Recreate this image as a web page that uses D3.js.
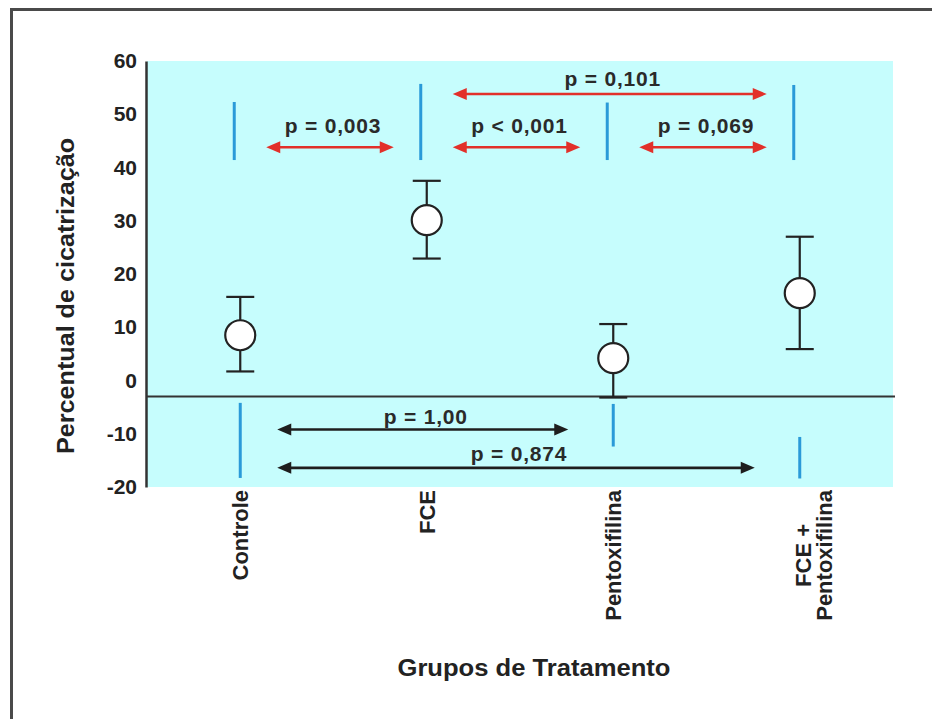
<!DOCTYPE html>
<html>
<head>
<meta charset="utf-8">
<script src="https://cdn.jsdelivr.net/npm/d3@7"></script>
<style>
  html, body { margin: 0; padding: 0; background: #fff; }
  svg { display: block; font-family: "Liberation Sans", Arial, sans-serif; }
</style>
</head>
<body>
<svg id="chart" width="932" height="719"></svg>
<script>
// Treatment groups (tick labels; "\n" splits a label over two lines)
const categories = ["Controle", "FCE", "Pentoxifilina", "FCE +\nPentoxifilina"];
// Mean healing percentage and the ends of each error bar
const means = [8.5, 30.1, 4.2, 16.4];
const upperErr = [15.7, 37.5, 10.6, 27.0];
const lowerErr = [1.7, 22.9, -3.2, 5.9];

// Y axis tick labels
const yTicks = [60, 50, 40, 30, 20, 10, 0, -10, -20];
const yDomain = [-20, 60];
const baselineValue = -3;

// Group marker segments (value ranges) above and below the baseline
const upperMarkers = [
  { group: 0, from: 41.4, to: 52.3 },
  { group: 1, from: 41.4, to: 55.7 },
  { group: 2, from: 41.4, to: 52.2 },
  { group: 3, from: 41.4, to: 55.5 }
];
const lowerMarkers = [
  { group: 0, from: -18.3, to: -4.2 },
  { group: 2, from: -12.4, to: -4.4 },
  { group: 3, from: -18.4, to: -10.6 }
];

// Pairwise comparisons: groups joined, arrow level, label level, p-value text
const redComparisons = [
  { a: 0, b: 1, level: 43.8, labelLevel: 46.5, text: "p = 0,003" },
  { a: 1, b: 2, level: 43.8, labelLevel: 46.5, text: "p < 0,001" },
  { a: 2, b: 3, level: 43.8, labelLevel: 46.5, text: "p = 0,069" },
  { a: 1, b: 3, level: 53.8, labelLevel: 55.3, text: "p = 0,101" }
];
const blackComparisons = [
  { a: 0, b: 2, level: -9.2, labelLevel: -8.1, text: "p = 1,00" },
  { a: 0, b: 3, level: -16.4, labelLevel: -15.1, text: "p = 0,874" }
];

const yTitle = "Percentual de cicatrização";
const xTitle = "Grupos de Tratamento";

const svg = d3.select("#chart");
const plot = { left: 147, right: 893, top: 61, bottom: 487 };

const x = d3.scalePoint().domain(d3.range(categories.length))
  .range([plot.left, plot.right]).padding(0.5);
const y = d3.scaleLinear().domain(yDomain).range([plot.bottom, plot.top]);

// outer frame (left and top edges)
svg.append("path")
  .attr("d", `M11.5,730 L11.5,9.5 L940,9.5`)
  .attr("fill", "none").attr("stroke", "#4a4a4a").attr("stroke-width", 3);

// plot background
svg.append("rect")
  .attr("x", plot.left).attr("y", plot.top)
  .attr("width", plot.right - plot.left).attr("height", plot.bottom - plot.top)
  .attr("fill", "#c6fdfd");

// y axis
const yAxis = svg.append("g")
  .attr("transform", `translate(${plot.left - 1},0)`)
  .call(d3.axisLeft(y).tickValues(yTicks).tickSize(0).tickPadding(9).tickFormat(d => String(d)));
yAxis.select(".domain").attr("stroke", "#333").attr("stroke-width", 2.5);
yAxis.selectAll("text")
  .attr("font-size", 21).attr("font-weight", "bold").attr("fill", "#222")
  .attr("font-family", "Liberation Sans, Arial, sans-serif");

// baseline
svg.append("line")
  .attr("x1", plot.left).attr("x2", plot.right + 2)
  .attr("y1", y(baselineValue)).attr("y2", y(baselineValue))
  .attr("stroke", "#333").attr("stroke-width", 2);

// group marker segments
const blue = "#2a9ad8";
svg.append("g").selectAll("line").data(upperMarkers).join("line")
  .attr("x1", d => x(d.group) - 6).attr("x2", d => x(d.group) - 6)
  .attr("y1", d => y(d.to)).attr("y2", d => y(d.from))
  .attr("stroke", blue).attr("stroke-width", 3);
svg.append("g").selectAll("line").data(lowerMarkers).join("line")
  .attr("x1", d => x(d.group)).attr("x2", d => x(d.group))
  .attr("y1", d => y(d.to)).attr("y2", d => y(d.from))
  .attr("stroke", blue).attr("stroke-width", 3);

// double-headed arrows with their p-value labels
function arrows(data, color, insetA, insetB) {
  const g = svg.append("g");
  const head = 14, half = 6;
  data.forEach(d => {
    const x1 = x(d.a) + insetA, x2 = x(d.b) - insetB, yy = y(d.level);
    g.append("line")
      .attr("x1", x1 + head - 2).attr("x2", x2 - head + 2)
      .attr("y1", yy).attr("y2", yy)
      .attr("stroke", color).attr("stroke-width", 2.6);
    g.append("path")
      .attr("d", `M${x1},${yy} L${x1 + head},${yy - half} L${x1 + head},${yy + half} Z`)
      .attr("fill", color);
    g.append("path")
      .attr("d", `M${x2},${yy} L${x2 - head},${yy - half} L${x2 - head},${yy + half} Z`)
      .attr("fill", color);
    g.append("text")
      .attr("x", (x1 + x2) / 2 + 3).attr("y", y(d.labelLevel))
      .attr("text-anchor", "middle")
      .attr("font-size", 21).attr("font-weight", "bold").attr("fill", "#2a2a2a")
      .attr("letter-spacing", 0.8)
      .text(d.text);
  });
}
arrows(redComparisons, "#e2302a", 26, 33);
arrows(blackComparisons, "#1e1e1e", 37, 45);

// error bars and mean markers
const capHalf = 14;
const eb = svg.append("g").attr("stroke", "#222").attr("stroke-width", 2.2);
categories.forEach((c, i) => {
  const cx = x(i);
  eb.append("line").attr("x1", cx).attr("x2", cx)
    .attr("y1", y(upperErr[i])).attr("y2", y(lowerErr[i]));
  eb.append("line").attr("x1", cx - capHalf).attr("x2", cx + capHalf)
    .attr("y1", y(upperErr[i])).attr("y2", y(upperErr[i]));
  eb.append("line").attr("x1", cx - capHalf).attr("x2", cx + capHalf)
    .attr("y1", y(lowerErr[i])).attr("y2", y(lowerErr[i]));
});
svg.append("g").selectAll("circle").data(means).join("circle")
  .attr("cx", (d, i) => x(i)).attr("cy", d => y(d)).attr("r", 15)
  .attr("fill", "#fff").attr("stroke", "#222").attr("stroke-width", 2.2);

// category labels, rotated, reading upward from below the plot
const labelTop = plot.bottom + 3;
categories.forEach((c, i) => {
  const lines = c.split("\n");
  const g = svg.append("g")
    .attr("transform", `translate(${x(i) + (lines.length > 1 ? 11 : 8)},${labelTop}) rotate(-90)`);
  const t = g.append("text")
    .attr("font-size", 22).attr("font-weight", "bold").attr("fill", "#222");
  lines.forEach((ln, k) => {
    t.append("tspan").attr("x", 0).attr("dy", k === 0 ? 0 : 21).text(ln);
  });
  if (lines.length === 1) {
    t.attr("text-anchor", "end");
  } else {
    const w = d3.max(t.selectAll("tspan").nodes(), n => n.getComputedTextLength());
    t.attr("text-anchor", "middle");
    t.selectAll("tspan").attr("x", -w / 2);
  }
});

// axis titles
svg.append("text")
  .attr("transform", `translate(74,296) rotate(-90)`)
  .attr("text-anchor", "middle")
  .attr("font-size", 23).attr("font-weight", "bold").attr("fill", "#222")
  .attr("textLength", 316).attr("lengthAdjust", "spacingAndGlyphs")
  .text(yTitle);
svg.append("text")
  .attr("x", 534).attr("y", 676)
  .attr("text-anchor", "middle")
  .attr("font-size", 23).attr("font-weight", "bold").attr("fill", "#222")
  .attr("textLength", 273).attr("lengthAdjust", "spacingAndGlyphs")
  .text(xTitle);
</script>
</body>
</html>
